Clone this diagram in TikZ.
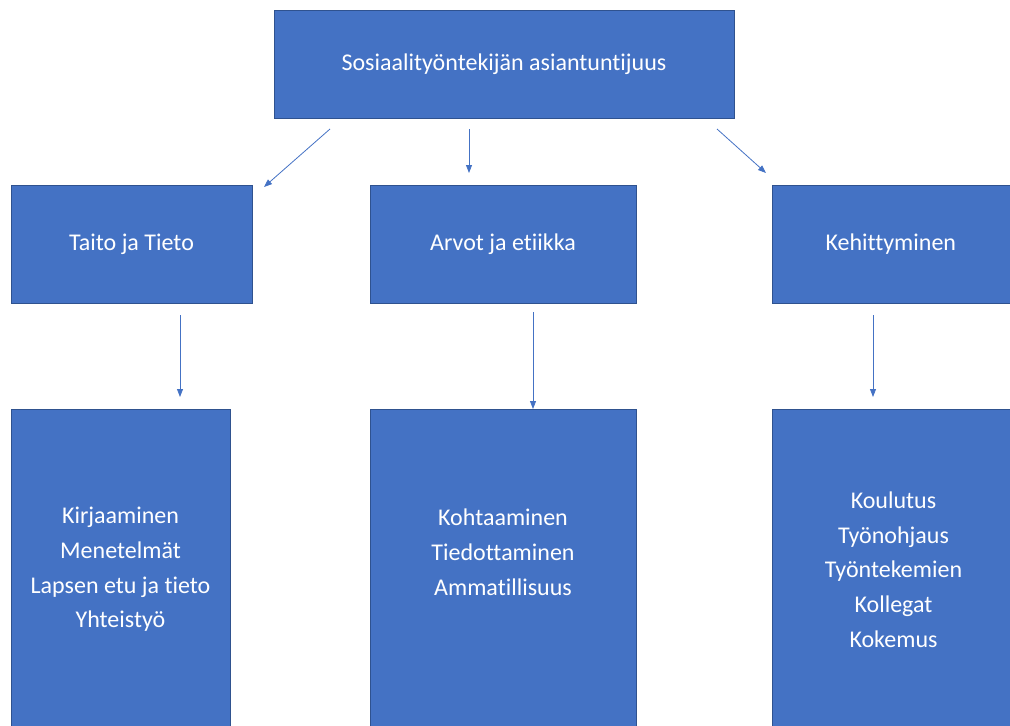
\documentclass[tikz,border=0pt]{standalone}
\usepackage{fontspec}
\setmainfont{Carlito}[Ligatures=NoCommon]
\usetikzlibrary{arrows.meta}

\definecolor{boxblue}{RGB}{68,114,196}
\definecolor{boxedge}{RGB}{47,82,143}

\begin{document}
\begin{tikzpicture}
	[%
	x=0.75pt, y=-0.75pt,%
	box/.style   ={rectangle,	draw=boxedge,	fill=boxblue,	line width=0.6pt,	text=white,	align=center,	inner sep=0pt,	font=\fontsize{18}{26}\selectfont},%
	arrow/.style ={-{Triangle[length=6pt,width=4.5pt]},	draw=boxblue,	line width=0.6pt},%
	]

	\clip (0,0) rectangle (1010,725);

	% nodes
	% root
	\node (root) at (504,64) [box, minimum width=345pt, minimum height=81pt] {Sosiaalityöntekijän asiantuntijuus};
	% topics
	\foreach \n/\x/\w/\txt in {	0/131.5/180.75/Taito ja Tieto, 1/503/199.5/Arvot ja etiikka, 2/893.5/182.25/Kehittyminen }
			\node (topic\n) at (\x,244) [box, minimum width=\w pt, minimum height=88.5pt] {\txt};
	% details
	\node (detail0) at (120.5,569.5) [box, minimum width=164.25pt, minimum height=240.75pt]
			{Kirjaaminen\\Menetelmät\\Lapsen etu ja tieto\\Yhteistyö};
	\node (detail1) at (503,569.5) [box, minimum width=199.5pt, minimum height=240.75pt]
			{Kohtaaminen\\Tiedottaminen\\Ammatillisuus\\\mbox{}};
	\node (detail2) at (893.5,569.5) [box, minimum width=182.25pt, minimum height=240.75pt]
			{Koulutus\\Työnohjaus\\Työntekemien\\Kollegat\\Kokemus};

	% interconnections
	% root to topics
	\foreach \i/\xa/\xb/\yb in {0/330/264/187, 1/469/469/173, 2/717/766/173} {
		\coordinate (from\i) at (\xa,129);
		\coordinate (to\i) at (\xb,\yb);
		\draw [arrow] (from\i) -- (to\i);
	}
	% topics to details
	\foreach \i/\x/\ya/\yb in {0/180/315/397, 1/533/312/409, 2/873/315/397} {
		\coordinate (down\i) at (\x,\ya);
		\coordinate (end\i) at (\x,\yb);
		\draw [arrow] (down\i) -- (end\i);
	}

\end{tikzpicture}
\end{document}
